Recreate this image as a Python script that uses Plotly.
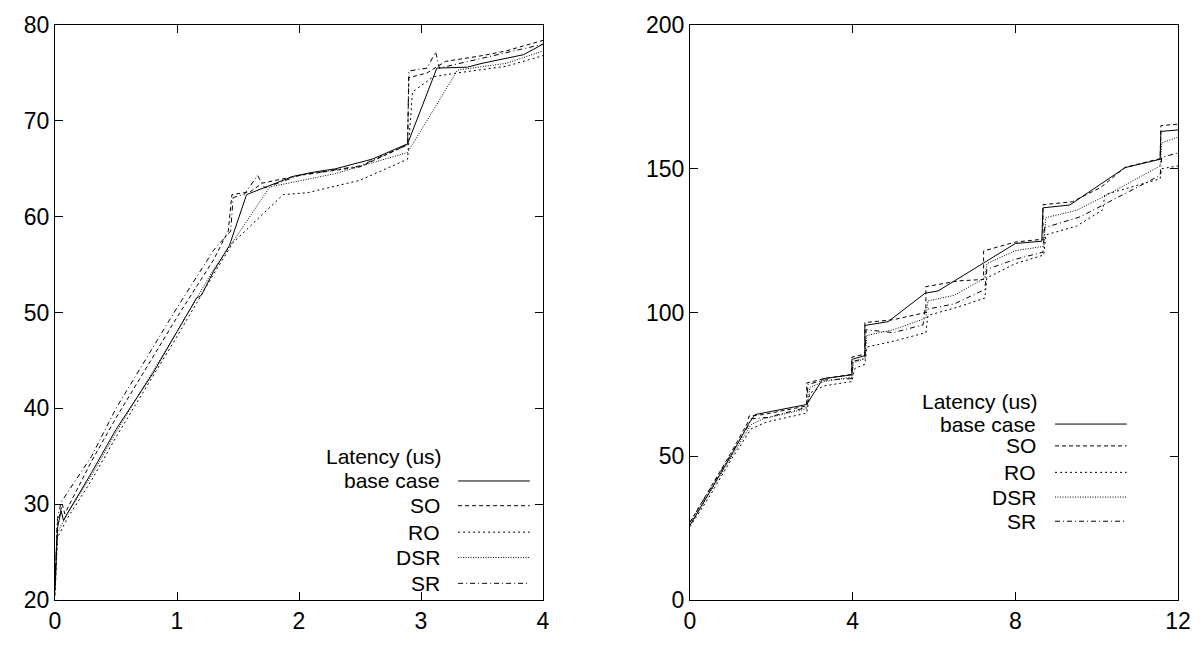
import plotly.graph_objects as go
from plotly.subplots import make_subplots

series_names = ["base case", "SO", "RO", "DSR", "SR"]
legend_title = "Latency (us)"

# ---- Left panel data (x, y) ----
L_base_x = [0, 0.02, 0.05, 0.07, 0.1, 0.3, 0.5, 0.8, 1.0, 1.16, 1.2, 1.3, 1.43, 1.57, 1.95, 2.1, 2.3, 2.6, 2.89, 3.13, 3.38, 3.5, 3.84, 4.0]
L_base_y = [21, 27.5, 29.3, 28.3, 29.0, 33.3, 37.8, 43.6, 48.0, 51.5, 51.8, 54.3, 57.0, 62.3, 64.2, 64.6, 65.0, 66.0, 67.6, 75.5, 75.6, 76.0, 76.9, 78.0]

L_SO_x = [0, 0.02, 0.06, 0.08, 0.3, 0.5, 1.0, 1.3, 1.42, 1.45, 1.6, 1.7, 2.0, 2.5, 2.89, 2.9, 3.05, 3.2, 3.5, 3.7, 4.0]
L_SO_y = [22, 28.0, 30.0, 29.0, 34.5, 39.0, 49.5, 55.5, 58.5, 62.3, 62.6, 63.5, 64.3, 65.2, 67.5, 74.5, 75.0, 76.2, 76.8, 77.3, 78.4]

L_RO_x = [0, 0.02, 0.1, 0.3, 0.5, 1.0, 1.3, 1.46, 1.87, 2.07, 2.5, 2.89, 2.93, 3.1, 3.3, 3.7, 4.0]
L_RO_y = [20.5, 26.5, 28.5, 32.5, 37.0, 47.5, 54.0, 57.3, 62.3, 62.5, 63.8, 66.0, 73.0, 74.6, 75.0, 75.7, 76.8]

L_DSR_x = [0, 0.02, 0.1, 0.3, 0.5, 1.0, 1.3, 1.47, 1.76, 2.3, 2.89, 3.3, 3.7, 4.0]
L_DSR_y = [20.5, 27.0, 29.0, 33.0, 37.5, 48.0, 54.5, 57.6, 63.1, 64.5, 66.7, 75.3, 76.0, 77.3]

L_SR_x = [0, 0.02, 0.05, 0.3, 0.5, 1.0, 1.3, 1.44, 1.46, 1.55, 1.66, 1.72, 2.0, 2.5, 2.89, 2.9, 3.05, 3.12, 3.15, 3.5, 4.0]
L_SR_y = [22, 28.5, 30.2, 35.0, 40.0, 50.5, 56.5, 58.5, 62.0, 62.3, 64.3, 63.0, 64.3, 65.3, 67.5, 75.2, 75.5, 77.2, 75.5, 76.5, 78.0]

# ---- Right panel data (x, y) ----
R_base_x = [0, 0.5, 1.0, 1.45, 1.6, 2.87, 3.27, 3.98, 3.98, 4.3, 4.3, 4.87, 5.78, 6.1, 7.25, 8.0, 8.65, 8.68, 9.34, 10.7, 11.56, 11.58, 12]
R_base_y = [26, 38, 50, 61.5, 64.5, 68, 77, 78.3, 83.7, 85, 95.5, 96.8, 106.7, 107.5, 117.6, 124, 124.8, 136.4, 137.4, 150.4, 153.3, 163, 163.5]

R_SO_x = [0, 0.5, 1.0, 1.43, 1.45, 1.8, 2.87, 2.87, 3.3, 3.98, 3.98, 4.3, 4.3, 5.0, 5.8, 5.8, 6.6, 7.22, 7.22, 8.0, 8.68, 8.68, 9.4, 10.1, 10.7, 11.56, 11.58, 12]
R_SO_y = [27, 39, 51, 62, 64, 64.5, 67.5, 75.5, 77, 78.5, 84.5, 85.5, 96.5, 97.5, 100, 109, 111, 111.5, 121.4, 124.5, 125.5, 137.5, 138.5, 143.5, 150.5, 153.5, 165, 165.5]

R_RO_x = [0, 0.5, 1.0, 1.5, 1.9, 2.87, 2.95, 3.3, 3.98, 4.05, 4.3, 4.35, 5.0, 5.8, 5.85, 6.5, 7.25, 7.3, 8.0, 8.7, 8.75, 9.5, 10.15, 10.2, 11.56, 11.6, 12]
R_RO_y = [25.5, 36.5, 48.5, 59.5, 62, 65, 72, 74.5, 76, 80.5, 82, 88, 90, 93, 99, 101.5, 105, 112, 117, 120, 127, 130, 135.7, 141, 146.5, 150, 151]

R_DSR_x = [0, 0.5, 1.0, 1.5, 1.8, 2.87, 2.95, 3.3, 3.98, 4.02, 4.3, 4.35, 5.0, 5.8, 5.85, 6.5, 7.25, 7.3, 8.0, 8.7, 8.75, 9.5, 10.2, 11.56, 11.6, 12]
R_DSR_y = [26, 37.5, 49.5, 61, 63, 66.5, 74, 76, 77.5, 82.5, 84, 92, 94, 98, 104, 106, 112, 117, 121.5, 123, 133, 135.5, 140.5, 151, 159, 161]

R_SR_x = [0, 0.5, 1.0, 1.45, 1.5, 1.9, 2.87, 2.9, 3.3, 3.98, 4.0, 4.3, 4.33, 5.0, 5.73, 5.78, 6.5, 7.25, 7.3, 8.0, 8.68, 8.72, 9.6, 11.56, 11.6, 12]
R_SR_y = [27, 38.5, 50.5, 61, 63, 63.5, 67, 75, 76.5, 77, 83, 84, 94, 93, 95.7, 101, 103, 108, 115, 118.5, 121, 129.5, 133.3, 147.7, 154, 155.5]

left_tickvals = [20, 30, 40, 50, 60, 70, 80]
left_xticks = [0, 1, 2, 3, 4]
right_tickvals = [0, 50, 100, 150, 200]
right_xticks = [0, 4, 8, 12]

dashes = ["solid", "4px,3px", "2px,3px", "1px,1.5px", "5px,3px,1px,3px"]

left_data = [(L_base_x, L_base_y), (L_SO_x, L_SO_y), (L_RO_x, L_RO_y), (L_DSR_x, L_DSR_y), (L_SR_x, L_SR_y)]
right_data = [(R_base_x, R_base_y), (R_SO_x, R_SO_y), (R_RO_x, R_RO_y), (R_DSR_x, R_DSR_y), (R_SR_x, R_SR_y)]

fig = make_subplots(rows=1, cols=2, horizontal_spacing=0.1309)

for i, (name, (x, y)) in enumerate(zip(series_names, left_data)):
    fig.add_trace(go.Scatter(x=x, y=y, mode="lines", name=name, showlegend=False,
                             line=dict(color="black", width=1, dash=dashes[i])), row=1, col=1)
for i, (name, (x, y)) in enumerate(zip(series_names, right_data)):
    fig.add_trace(go.Scatter(x=x, y=y, mode="lines", name=name, showlegend=False,
                             line=dict(color="black", width=1, dash=dashes[i])), row=1, col=2)

FONT = "Liberation Sans, Arial, sans-serif"

axis_common = dict(showline=True, linecolor="black", linewidth=1, mirror="ticks",
                   ticks="inside", ticklen=8, tickcolor="black", showgrid=False,
                   zeroline=False, tickfont=dict(family=FONT, size=23, color="black"))

fig.update_xaxes(range=[0, 4], tickvals=left_xticks, row=1, col=1, **axis_common)
fig.update_yaxes(range=[20, 80], tickvals=left_tickvals, row=1, col=1, **axis_common)
fig.update_xaxes(range=[0, 12], tickvals=right_xticks, row=1, col=2, **axis_common)
fig.update_yaxes(range=[0, 200], tickvals=right_tickvals, row=1, col=2, **axis_common)

# Custom legends (text right-aligned, sample line to the right)
legends = [
    dict(xr="x domain", yr="y domain", tx=0.790, lx0=0.826, lx1=0.973,
         rows=[0.250, 0.207, 0.164, 0.118, 0.074, 0.029]),
    dict(xr="x2 domain", yr="y2 domain", tx=0.711, lx0=0.748, lx1=0.895,
         rows=[0.345, 0.306, 0.268, 0.222, 0.179, 0.137]),
]
LEG_SIZE = 21
annotations = []
shapes = []
for lg in legends:
    annotations.append(dict(xref=lg["xr"], yref=lg["yr"], x=lg["tx"] + 0.005, y=lg["rows"][0],
                            text=legend_title, showarrow=False, xanchor="right", yanchor="middle",
                            borderpad=0,
                            font=dict(family=FONT, size=LEG_SIZE, color="black")))
    for i, name in enumerate(series_names):
        yy = lg["rows"][i + 1]
        annotations.append(dict(xref=lg["xr"], yref=lg["yr"], x=lg["tx"], y=yy,
                                text=name, showarrow=False, xanchor="right", yanchor="middle",
                                borderpad=0,
                                font=dict(family=FONT, size=LEG_SIZE, color="black")))
        shapes.append(dict(type="line", xref=lg["xr"], yref=lg["yr"], x0=lg["lx0"], x1=lg["lx1"],
                           y0=yy, y1=yy, line=dict(color="black", width=1, dash=dashes[i])))

fig.update_layout(
    width=1204, height=646,
    margin=dict(l=55, r=26, t=22, b=40),
    paper_bgcolor="white", plot_bgcolor="white",
    showlegend=False,
    annotations=annotations, shapes=shapes,
    font=dict(family=FONT, color="black"),
)

fig.write_html("out.html")
